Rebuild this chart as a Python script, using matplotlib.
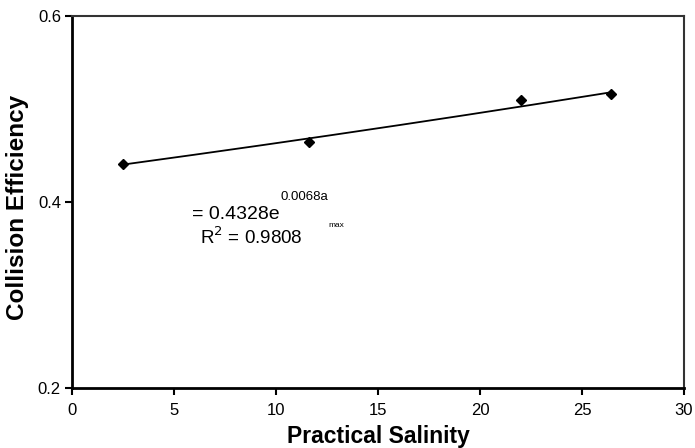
import numpy as np
import matplotlib
matplotlib.use("Agg")
import matplotlib.pyplot as plt

# salinity vs. collision efficiency measurements
salinity = [2.5, 11.6, 22.0, 26.4]
efficiency = [0.441, 0.4645, 0.5095, 0.516]

# exponential trendline coefficients (as printed on the chart)
fit_a = 0.4328
fit_b = 0.0068
fit_r2 = 0.9808

x_ticks = [0, 5, 10, 15, 20, 25, 30]
y_ticks = [0.2, 0.4, 0.6]

plt.rcParams["font.family"] = ["Liberation Sans", "DejaVu Sans"]

fig = plt.figure(figsize=(6.95, 4.48), dpi=100)
ax = fig.add_axes([72 / 695, 1 - 388 / 448, 612 / 695, 372 / 448])

xs = np.linspace(min(salinity), max(salinity), 200)
ax.plot(xs, fit_a * np.exp(fit_b * xs), color="black", lw=1.3, zorder=2)
ax.plot(salinity, efficiency, "D", color="black", ms=5, zorder=3)

ax.set_xlim(0, 30)
ax.set_ylim(0.2, 0.6)
ax.set_xticks(x_ticks)
ax.set_yticks(y_ticks)
ax.set_xticklabels([str(t) for t in x_ticks])
ax.set_yticklabels([f"{t:.1f}" for t in y_ticks])
ax.tick_params(axis="both", direction="out", length=5, width=1.5, labelsize=12, colors="black")
ax.tick_params(axis="x", pad=6)
ax.tick_params(axis="y", pad=3)

for side in ("left", "bottom"):
    ax.spines[side].set_linewidth(2)
for side in ("top", "right"):
    ax.spines[side].set_linewidth(1.5)
    ax.spines[side].set_color("#333333")

ax.set_xlabel("Practical Salinity", fontsize=16.5, fontweight="bold", labelpad=5)
ax.set_ylabel("Collision Efficiency", fontsize=17.5, fontweight="bold")
ax.yaxis.set_label_coords(-0.071, 0.485)

# trendline equation text
ax.text(5.87, 0.3815, f"= {fit_a}e", fontsize=14, ha="left", va="baseline")
ax.text(10.2, 0.412, f"{fit_b}a", fontsize=9.5, ha="left", va="top")
ax.text(12.55, 0.379, "max", fontsize=6, ha="left", va="top")
ax.text(6.25, 0.355, f"R$^2$ = {fit_r2}", fontsize=13.5, ha="left", va="baseline")

fig.savefig("out.png", dpi=100)
